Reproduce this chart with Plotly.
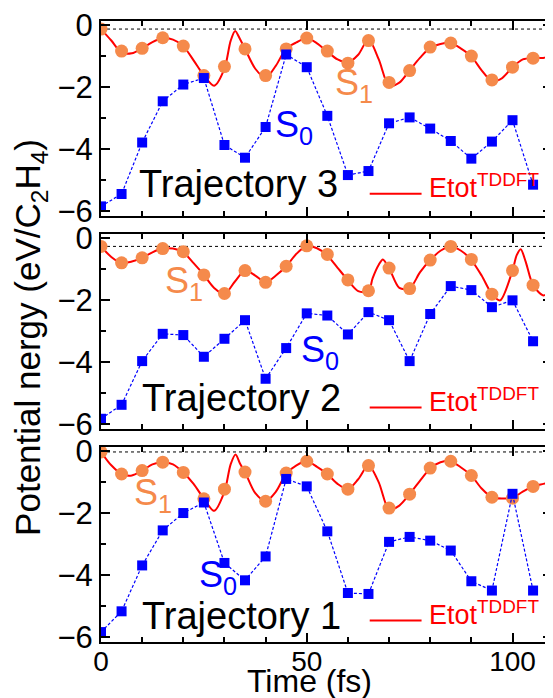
import plotly.graph_objects as go

# ---------------- data ----------------
t_states = [0, 5, 10, 15, 20, 25, 30, 35, 40, 45, 50, 55, 60, 65, 70, 75, 80, 85, 90, 95, 100, 105]

# Trajectory 3 (top panel)
s1_traj3 = [-0.12, -0.83, -0.74, -0.40, -0.67, -1.62, -1.33, -0.76, -1.62, -0.76, -0.41, -0.83,
            -1.22, -0.49, -1.84, -1.46, -0.70, -0.57, -0.99, -1.76, -1.35, -1.06]
s0_traj3 = [-5.84, -5.44, -3.78, -2.45, -1.91, -1.70, -3.86, -4.27, -3.28, -0.94, -1.35, -2.92,
            -4.83, -4.70, -3.16, -2.97, -3.33, -3.73, -4.30, -3.75, -3.06, -5.14]
t_etot_traj3 = [0, 2.5, 5, 7.5, 10, 12.5, 15, 17.5, 20, 22.5, 25, 27.5, 30, 31.5, 32.6, 33.8, 35, 37.5,
                40, 42.5, 45, 47.5, 50, 52.5, 55, 57.5, 60, 62.5, 65, 67.5, 70, 72.5, 75, 77.5, 80,
                82.5, 85, 87.5, 90, 92.5, 95, 97.5, 100, 102.5, 105, 107.5, 109.5]
etot_traj3 = [-0.12, -0.49, -0.88, -0.90, -0.74, -0.54, -0.42, -0.46, -0.67, -1.13, -1.62, -1.95,
              -1.40, -0.50, -0.18, -0.45, -0.76, -1.40, -1.70, -1.30, -0.75, -0.55, -0.41, -0.58,
              -0.85, -1.10, -1.20, -0.95, -0.45, -1.10, -1.95, -1.85, -1.45, -1.05, -0.72, -0.60,
              -0.57, -0.75, -1.00, -1.45, -1.80, -1.70, -1.35, -1.10, -1.05, -1.05, -0.97]

# Trajectory 2 (middle panel)
s1_traj2 = [-0.26, -0.79, -0.63, -0.33, -0.43, -1.18, -1.78, -1.04, -1.42, -0.90, -0.24, -0.52,
            -1.34, -1.69, -0.96, -1.62, -0.70, -0.26, -0.68, -1.80, -1.04, -1.51]
s0_traj2 = [-5.82, -5.37, -3.96, -3.08, -3.12, -3.82, -3.24, -2.64, -4.53, -3.54, -2.42, -2.49,
            -3.10, -2.38, -2.64, -3.96, -2.44, -1.54, -1.67, -2.22, -2.00, -3.32]
t_etot_traj2 = [0, 2.5, 5, 7.5, 10, 12.5, 15, 17.5, 20, 22.5, 25, 27.5, 30, 32.5, 35, 37.5, 40, 42.5,
                45, 47.5, 50, 52.5, 55, 57.5, 60, 62.5, 65, 66, 67.5, 68.5, 70, 72.5, 75, 77.5, 80,
                82.5, 85, 87.5, 90, 92.5, 95, 97, 100, 101, 102, 103.2, 105, 107.5, 109.5]
etot_traj2 = [-0.26, -0.60, -0.80, -0.75, -0.63, -0.45, -0.33, -0.33, -0.45, -0.80, -1.18, -1.60,
              -1.80, -1.40, -1.04, -1.20, -1.42, -1.20, -0.90, -0.50, -0.25, -0.32, -0.55, -0.95,
              -1.35, -1.70, -1.72, -1.29, -0.85, -0.68, -0.96, -1.60, -1.62, -1.10, -0.70, -0.40,
              -0.26, -0.40, -0.70, -1.20, -1.80, -2.00, -1.04, -0.55, -0.35, -0.75, -1.51, -1.84,
              -1.67]

# Trajectory 1 (bottom panel)
s1_traj1 = [-0.02, -0.73, -0.62, -0.35, -0.68, -1.53, -1.22, -0.67, -1.61, -0.70, -0.32, -0.73,
            -1.22, -0.46, -1.83, -1.38, -0.54, -0.32, -0.78, -1.48, -1.51, -1.13]
s0_traj1 = [-5.83, -5.16, -3.68, -2.55, -1.99, -1.65, -3.60, -4.16, -3.39, -0.89, -1.13, -2.58,
            -4.57, -4.60, -2.92, -2.76, -2.88, -3.20, -4.19, -4.49, -1.37, -4.49]
t_etot_traj1 = [0, 2.5, 5, 7.5, 10, 12.5, 15, 17.5, 20, 22.5, 25, 27.5, 30, 31.5, 32.7, 33.8, 35, 37.5,
                40, 42.5, 45, 47.5, 50, 52.5, 55, 57.5, 60, 62.5, 65, 67.5, 70, 72.5, 75, 77.5, 80,
                82.5, 85, 87.5, 90, 92.5, 95, 97.5, 100, 102.5, 105, 107.5, 109.5]
etot_traj1 = [-0.02, -0.45, -0.73, -0.78, -0.62, -0.42, -0.35, -0.42, -0.68, -1.05, -1.53, -1.92,
              -1.30, -0.42, -0.10, -0.40, -0.67, -1.35, -1.61, -1.30, -0.72, -0.45, -0.32, -0.50,
              -0.73, -1.05, -1.22, -0.90, -0.45, -1.00, -1.88, -1.75, -1.38, -0.95, -0.55, -0.35,
              -0.32, -0.52, -0.78, -1.20, -1.48, -1.52, -1.50, -1.30, -1.13, -1.05, -0.99]

ref_levels = [-0.12, -0.26, -0.02]           # dotted reference line per panel (top→bottom)
x_ticks = [0, 50, 100]
y_ticks = [0, -2, -4, -6]

# ---------------- style ----------------
FONT = "Liberation Sans, Arial, Helvetica, sans-serif"
RED = "#ff0000"
ORANGE = "#f58a4b"
BLUE = "#0000ff"

fig = go.Figure()

panels = [
    (t_etot_traj3, etot_traj3, s1_traj3, s0_traj3),
    (t_etot_traj2, etot_traj2, s1_traj2, s0_traj2),
    (t_etot_traj1, etot_traj1, s1_traj1, s0_traj1),
]
domains = [[0.686, 1.0], [0.343, 0.657], [0.0, 0.314]]

for i, (te, et, s1, s0) in enumerate(panels):
    xa = "x" if i == 0 else f"x{i+1}"
    ya = "y" if i == 0 else f"y{i+1}"
    fig.add_trace(go.Scatter(x=te, y=et, mode="lines",
                             line=dict(color=RED, width=2, shape="spline", smoothing=0.8),
                             xaxis=xa, yaxis=ya, showlegend=False, hoverinfo="skip"))
    fig.add_trace(go.Scatter(x=t_states, y=s1, mode="markers",
                             marker=dict(color=ORANGE, size=13, symbol="circle", line=dict(width=0)),
                             xaxis=xa, yaxis=ya, showlegend=False))
    fig.add_trace(go.Scatter(x=t_states, y=s0, mode="lines+markers",
                             line=dict(color=BLUE, width=1.2, dash="3px,2px"),
                             marker=dict(color=BLUE, size=10, symbol="square", line=dict(width=0)),
                             xaxis=xa, yaxis=ya, showlegend=False))
    fig.add_shape(type="line", xref=f"{xa} domain", yref=ya, x0=0, x1=1,
                  y0=ref_levels[i], y1=ref_levels[i], line=dict(color="black", width=1, dash="3px,3px"),
                  layer="below")

axis_common = dict(showline=True, linecolor="black", linewidth=2, mirror="ticks", automargin=False,
                   ticks="inside", tickcolor="black", tickwidth=2, showgrid=False, zeroline=False)

# the page adds an 8px body margin, so the figure is 8px smaller and shifted accordingly
layout = dict(
    width=545, height=690,
    margin=dict(l=93, r=1, t=13, b=56, autoexpand=False),
    paper_bgcolor="white", plot_bgcolor="white",
    font=dict(family=FONT, color="black"),
)
for i in range(3):
    xk = "xaxis" if i == 0 else f"xaxis{i+1}"
    yk = "yaxis" if i == 0 else f"yaxis{i+1}"
    ya = "y" if i == 0 else f"y{i+1}"
    xa = "x" if i == 0 else f"x{i+1}"
    layout[xk] = dict(axis_common, range=[0, 109.6], tickvals=x_ticks, ticklen=9,
                      tickfont=dict(family=FONT, size=28, color="black"), ticklabelstandoff=-7,
                      showticklabels=(i == 2), anchor=ya, domain=[0, 1],
                      minor=dict(dtick=10, ticklen=5, tickwidth=2, tickcolor="black", ticks="inside"))
    layout[yk] = dict(axis_common, range=[-6.15, 0.14], tickvals=y_ticks,
                      ticktext=[("\u2212" + str(abs(v))) if v < 0 else str(v) for v in y_ticks],
                      tickfont=dict(family=FONT, size=31, color="black"),
                      ticklen=9, anchor=xa, domain=domains[i],
                      minor=dict(dtick=1, ticklen=5, tickwidth=2, tickcolor="black", ticks="inside"))
fig.update_layout(**layout)

# ---------------- annotations ----------------
ann = []
label_specs = [
    ("", "Trajectory 3", 8.7, -5.12, "black", 38),
    ("", "S<sub>1</sub>", 56.3, -1.93, ORANGE, 36),
    ("", "S<sub>0</sub>", 41.8, -3.27, BLUE, 36),
    ("2", "Trajectory 2", 9.5, -5.14, "black", 38),
    ("2", "S<sub>1</sub>", 15.1, -1.43, ORANGE, 36),
    ("2", "S<sub>0</sub>", 48.1, -3.66, BLUE, 36),
    ("3", "Trajectory 1", 9.5, -5.30, "black", 38),
    ("3", "S<sub>1</sub>", 7.6, -1.40, ORANGE, 36),
    ("3", "S<sub>0</sub>", 23.3, -4.04, BLUE, 36),
]
for suf, txt, x, y, col, sz in label_specs:
    ann.append(dict(xref="x" + suf, yref="y" + suf, x=x, y=y, text=txt, showarrow=False,
                    xanchor="left", yanchor="middle", font=dict(family=FONT, size=sz, color=col)))

legend_y = [-5.43, -5.46, -5.46]
for i, suf in enumerate(["", "2", "3"]):
    fig.add_shape(type="line", xref="x" + suf, yref="y" + suf, x0=65.3, x1=77.9,
                  y0=legend_y[i], y1=legend_y[i], line=dict(color=RED, width=2))
    ann.append(dict(xref="x" + suf, yref="y" + suf, x=79.2, y=legend_y[i] + 0.25,
                    text="Etot<sup>TDDFT</sup>", showarrow=False, xanchor="left", yanchor="middle",
                    font=dict(family=FONT, size=27, color=RED)))

ann.append(dict(xref="paper", yref="paper", x=-0.157, y=0.49, textangle=-90,
                text="Potential nergy (eV/C<sub>2</sub>H<sub>4</sub>)", showarrow=False,
                xanchor="center", yanchor="middle", font=dict(family=FONT, size=35, color="black")))
ann.append(dict(xref="paper", yref="paper", x=0.463, y=-0.063, text="Time (fs)", showarrow=False,
                xanchor="center", yanchor="middle", font=dict(family=FONT, size=32, color="black")))

fig.update_layout(annotations=ann)
fig.write_html("out.html")
